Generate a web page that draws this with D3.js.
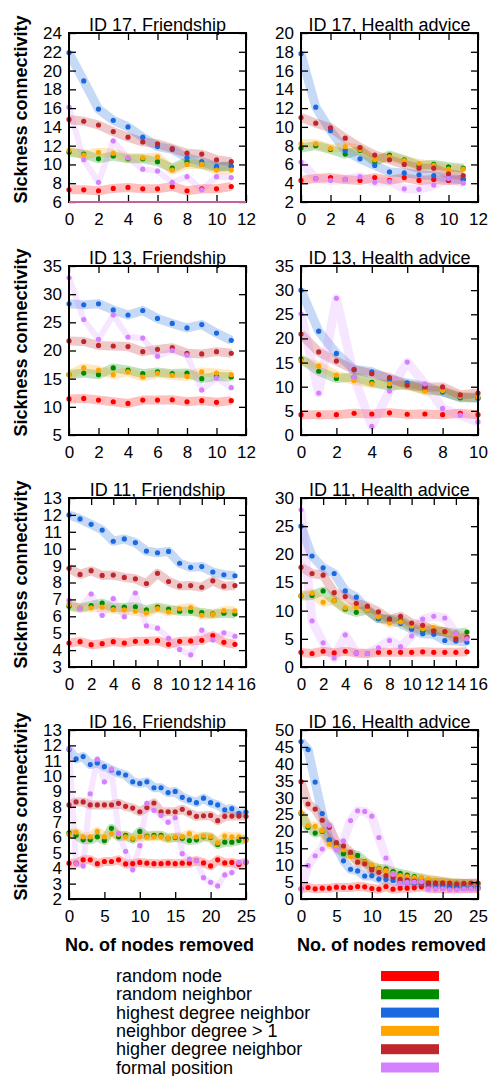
<!DOCTYPE html>
<html>
<head>
<meta charset="utf-8">
<script src="https://cdn.jsdelivr.net/npm/d3@7"></script>
<style>
  body { margin: 0; background: #fff; }
  svg { display: block; font-family: "Liberation Sans", Arial, Helvetica, sans-serif; }
</style>
</head>
<body>
<div id="chart"></div>
<script>
const width = 492;
const height = 1076;

// series, in legend order
const seriesNames = ["random node", "random neighbor", "highest degree neighbor",
  "neighbor degree > 1", "higher degree neighbor", "formal position"];
const seriesColors = ["#ff0000", "#008a00", "#1a69e0", "#ffa500", "#c0272d", "#d580ff"];

// rows follow seriesNames order; x = number of nodes removed (0, 1, 2, ...)
const id17Friendship = [
  [7.3, 7.3, 7.2, 7.45, 7.55, 7.4, 7.4, 7.65, 7.2, 7.4, 7.4, 7.65],
  [11.3, 11.1, 10.6, 10.9, 10.6, 10.6, 10.3, 9.6, 10.3, 10.0, 9.7, 9.8],
  [21.9, 18.9, 15.9, 14.7, 14.0, 12.9, 11.9, 11.6, 10.7, 10.3, 9.8, 9.8],
  [11.5, 11.0, 11.3, 11.2, 10.7, 10.7, 10.8, 9.4, 10.0, 10.0, 9.4, 9.4],
  [14.8, 14.6, 14.2, 13.5, 12.9, 12.4, 12.2, 11.7, 11.2, 11.1, 10.5, 10.3],
  [16.1, 10.5, 8.1, 12.5, 10.7, 9.5, 9.3, 8.1, 8.7, 7.3, 8.7, 8.6]
];
const id17Health = [
  [4.3, 4.5, 4.6, 4.4, 4.3, 4.6, 4.3, 4.6, 4.3, 4.4, 4.3, 4.4],
  [7.75, 8.0, 7.6, 7.1, 7.5, 6.3, 7.0, 6.5, 5.9, 6.0, 5.75, 5.6],
  [17.8, 12.1, 9.6, 7.5, 6.6, 5.9, 5.2, 5.1, 4.9, 4.8, 4.5, 4.4],
  [8.2, 8.2, 7.7, 7.9, 7.6, 6.5, 6.8, 6.4, 6.1, 5.9, 5.5, 5.5],
  [11.0, 10.4, 9.9, 8.8, 7.8, 7.0, 6.5, 6.0, 5.6, 5.6, 5.0, 4.8],
  [6.25, 4.5, 4.3, 4.4, 4.7, 4.1, 4.2, 3.4, 3.35, 3.8, 4.5, 4.0]
];
const id13Friendship = [
  [11.4, 11.5, 11.2, 10.9, 10.6, 11.2, 11.2, 11.25, 10.9, 11.1, 10.8, 11.1],
  [15.7, 16.0, 15.7, 16.9, 16.5, 15.9, 16.2, 15.9, 16.0, 15.0, 15.4, 15.3],
  [28.3, 28.1, 28.3, 27.2, 26.3, 27.1, 25.7, 24.8, 24.0, 24.6, 23.1, 21.8],
  [15.7, 16.9, 16.5, 15.7, 16.2, 15.3, 15.95, 15.6, 15.4, 16.2, 16.0, 15.7],
  [21.7, 21.6, 20.9, 20.8, 20.7, 19.8, 20.2, 20.5, 19.5, 19.4, 19.8, 19.5],
  [32.9, 25.5, 22.0, 26.3, 22.4, 22.2, 19.0, 20.0, 19.2, 13.0, 15.1, 13.4]
];
const id13Health = [
  [4.2, 4.2, 4.2, 4.5, 4.35, 4.6, 4.3, 4.35, 4.2, 4.5, 4.2],
  [15.75, 13.2, 11.7, 12.0, 10.9, 10.1, 10.4, 9.4, 9.0, 7.7, 7.7],
  [30.0, 21.5, 16.9, 13.6, 13.1, 11.5, 10.8, 10.1, 8.9, 7.85, 7.6],
  [15.4, 14.3, 12.4, 11.3, 10.6, 10.6, 10.3, 9.1, 9.2, 8.0, 7.85],
  [20.9, 17.2, 15.3, 13.5, 12.7, 11.9, 10.3, 9.95, 9.95, 8.3, 8.7],
  [25.1, 8.7, 28.3, 12.0, 1.8, 9.1, 15.1, 10.6, 5.5, 4.1, 2.7]
];
const id11Friendship = [
  [4.42, 4.5, 4.32, 4.38, 4.5, 4.42, 4.52, 4.52, 4.56, 4.34, 4.52, 4.54, 4.58, 4.86, 4.46, 4.34],
  [6.6, 6.48, 6.64, 6.78, 6.5, 6.54, 6.56, 6.38, 6.54, 6.42, 6.3, 6.3, 6.22, 6.14, 6.18, 6.14],
  [12.0, 11.76, 11.44, 11.1, 10.44, 10.58, 10.36, 9.86, 9.76, 9.84, 9.14, 8.9, 8.94, 8.62, 8.46, 8.4],
  [6.7, 6.5, 6.5, 6.54, 6.4, 6.38, 6.3, 6.2, 6.46, 6.26, 6.44, 6.52, 6.06, 6.12, 6.34, 6.32],
  [8.84, 8.48, 8.7, 8.42, 8.44, 8.3, 8.22, 7.94, 8.54, 8.06, 7.8, 7.82, 7.72, 8.1, 7.78, 7.82],
  [6.94, 6.46, 7.32, 6.06, 7.04, 5.98, 7.38, 5.44, 5.3, 4.7, 4.04, 3.72, 5.18, 4.6, 5.02, 4.82]
];
const id11Health = [
  [2.6, 2.4, 2.8, 2.5, 2.8, 2.5, 2.4, 2.6, 2.6, 2.6, 2.6, 2.7, 2.6, 2.6, 2.6, 2.7],
  [12.6, 12.7, 13.5, 11.8, 10.3, 9.7, 10.1, 8.6, 8.5, 8.3, 7.0, 6.4, 6.6, 6.2, 6.0, 6.2],
  [25.0, 19.7, 17.6, 16.6, 13.5, 12.4, 10.1, 8.6, 8.4, 7.7, 6.7, 5.9, 5.8, 4.7, 4.6, 4.4],
  [12.7, 13.1, 11.5, 11.8, 10.5, 10.6, 10.1, 8.9, 7.8, 8.0, 7.3, 6.8, 7.0, 6.2, 5.7, 5.3],
  [17.7, 16.6, 16.3, 13.2, 12.5, 11.3, 10.8, 9.8, 8.5, 9.0, 7.8, 7.4, 6.4, 6.3, 5.0, 5.3],
  [27.9, 8.2, 4.3, 1.6, 5.7, 2.5, 2.4, 3.4, 4.7, 3.6, 5.5, 8.5, 9.0, 8.7, 6.0, 5.0]
];
const id16Friendship = [
  [4.33, 4.33, 4.55, 4.55, 4.3, 4.44, 4.44, 4.55, 4.28, 4.3, 4.38, 4.33, 4.3, 4.3, 4.33, 4.3, 4.33, 4.33, 4.5, 4.35, 4.15, 4.55, 4.35, 4.38, 4.25, 4.4],
  [6.3, 6.15, 5.85, 5.85, 6.05, 5.8, 6.6, 6.05, 6.15, 5.9, 6.4, 6.1, 6.15, 6.15, 5.95, 6.0, 5.95, 5.8, 5.85, 6.05, 6.0, 5.55, 5.7, 5.7, 5.8, 5.9],
  [11.73, 11.12, 11.27, 10.75, 10.86, 10.61, 10.4, 10.2, 10.07, 9.63, 9.52, 9.63, 9.24, 9.24, 8.93, 9.0, 8.62, 8.45, 8.27, 8.56, 8.27, 8.12, 7.81, 7.88, 7.57, 7.66],
  [6.2, 6.35, 6.05, 6.05, 6.4, 6.05, 6.25, 6.2, 6.05, 5.95, 6.05, 6.05, 6.05, 6.05, 5.95, 6.05, 6.05, 6.25, 6.05, 6.1, 6.05, 5.65, 6.1, 6.05, 6.05, 5.8],
  [8.12, 8.32, 8.32, 8.12, 8.12, 8.12, 8.12, 8.23, 8.03, 7.92, 7.68, 7.95, 8.25, 7.68, 7.68, 7.68, 7.84, 7.6, 7.38, 7.42, 7.44, 7.1, 7.38, 7.4, 7.4, 7.38],
  [11.8, 4.3, 4.15, 8.85, 11.1, 9.63, 10.45, 6.25, 5.1, 3.9, 5.47, 8.23, 7.77, 7.44, 7.0, 7.29, 4.95, 4.6, 4.5, 3.39, 3.09, 2.85, 3.57, 3.72, 4.38, 4.44]
];
const id16Health = [
  [3.0, 3.4, 3.0, 3.2, 3.2, 3.5, 3.4, 3.4, 3.7, 3.6, 3.1, 2.9, 3.7, 2.9, 3.2, 3.2, 3.3, 3.6, 3.2, 3.1, 3.1, 3.1, 3.2, 3.1, 3.2, 3.1],
  [25.3, 21.2, 19.5, 20.0, 17.5, 15.7, 13.4, 13.4, 12.9, 11.1, 9.4, 9.1, 8.9, 8.1, 7.6, 7.1, 6.6, 6.1, 5.6, 5.4, 5.1, 4.8, 4.7, 4.6, 4.5, 4.5],
  [46.6, 44.2, 34.6, 25.3, 17.5, 15.5, 11.3, 8.8, 8.3, 6.8, 6.9, 5.9, 5.8, 5.5, 4.9, 4.8, 4.7, 4.5, 4.4, 4.3, 4.1, 4.0, 3.8, 3.7, 3.6, 3.5],
  [25.6, 21.7, 21.5, 20.2, 16.2, 15.3, 14.6, 12.6, 11.3, 10.9, 10.1, 8.9, 8.4, 7.6, 6.9, 6.6, 6.3, 6.3, 5.9, 5.6, 5.3, 4.9, 4.7, 4.7, 4.5, 4.5],
  [34.7, 28.1, 26.6, 23.3, 21.2, 16.7, 15.7, 13.8, 10.9, 10.4, 8.6, 7.9, 6.9, 6.4, 5.8, 5.6, 5.3, 4.9, 4.8, 4.8, 4.8, 4.7, 4.5, 4.6, 4.7, 4.7],
  [3.0, 9.9, 12.8, 14.8, 21.8, 14.6, 17.2, 23.2, 26.1, 25.9, 24.5, 18.2, 12.1, 7.3, 4.6, 4.9, 5.0, 5.1, 3.0, 2.9, 3.0, 2.7, 2.7, 3.0, 3.0, 3.0]
];

const panelTitles = ["ID 17, Friendship", "ID 17, Health advice", "ID 13, Friendship", "ID 13, Health advice",
  "ID 11, Friendship", "ID 11, Health advice", "ID 16, Friendship", "ID 16, Health advice"];
const panelData = [id17Friendship, id17Health, id13Friendship, id13Health,
  id11Friendship, id11Health, id16Friendship, id16Health];
const xDomains = [[0, 12], [0, 12], [0, 12], [0, 10], [0, 16], [0, 16], [0, 25], [0, 25]];
const xSteps = [2, 2, 2, 2, 2, 2, 5, 5];
const yDomains = [[6, 24], [2, 20], [5, 35], [0, 35], [3, 13], [0, 30], [2, 13], [0, 50]];
const ySteps = [2, 2, 5, 5, 1, 5, 1, 5];

// layout
const colX = [69, 301];
const rowY = [33, 266, 498, 730];
const pw = 177, ph = 169;
const tickLen = 7;

const svg = d3.select("#chart").append("svg")
  .attr("width", width)
  .attr("height", height);

svg.append("rect").attr("width", width).attr("height", height).attr("fill", "#fff");

panelData.forEach((rows, p) => {
  const col = p % 2, row = Math.floor(p / 2);
  const g = svg.append("g").attr("transform", `translate(${colX[col]},${rowY[row]})`);

  const x = d3.scaleLinear().domain(xDomains[p]).range([0, pw]);
  const y = d3.scaleLinear().domain(yDomains[p]).range([ph, 0]);
  const xt = d3.range(xDomains[p][0], xDomains[p][1] + 0.001, xSteps[p]);
  const yt = d3.range(yDomains[p][0], yDomains[p][1] + 0.001, ySteps[p]);

  g.append("clipPath").attr("id", "clip" + p)
    .append("rect").attr("width", pw).attr("height", ph);

  const line = d3.line().x((d, i) => x(i)).y(d => y(d));

  // light bands
  g.append("g").attr("clip-path", `url(#clip${p})`)
    .selectAll("path")
    .data(rows)
    .join("path")
    .attr("d", line)
    .attr("fill", "none")
    .attr("stroke", (d, i) => seriesColors[i])
    .attr("stroke-opacity", (d, i) => i === 5 ? 0.2 : 0.25)
    .attr("stroke-width", (d, i) => i === 5 && p % 2 === 0 ? 6 : 9)
    .attr("stroke-linejoin", "round");

  // mean points
  rows.forEach((vals, s) => {
    g.append("g").selectAll("circle")
      .data(vals)
      .join("circle")
      .attr("cx", (d, i) => x(i))
      .attr("cy", d => y(d))
      .attr("r", 2.6)
      .attr("fill", seriesColors[s]);
  });

  // axes with inward ticks on all sides
  const styleAxis = a => {
    a.select(".domain").remove();
    a.selectAll(".tick line").attr("stroke", "#000").attr("stroke-width", 1.3);
    a.selectAll(".tick text").attr("fill", "#000").style("font-size", "17px");
  };
  g.append("g")
    .call(d3.axisLeft(y).tickValues(yt).tickSize(-tickLen).tickPadding(7).tickFormat(d3.format("d")))
    .call(styleAxis);
  g.append("g").attr("transform", `translate(${pw},0)`)
    .call(d3.axisRight(y).tickValues(yt).tickSize(-tickLen).tickFormat(""))
    .call(styleAxis);
  g.append("g").attr("transform", `translate(0,${ph})`)
    .call(d3.axisBottom(x).tickValues(xt).tickSize(-tickLen).tickPadding(11).tickFormat(d3.format("d")))
    .call(styleAxis);
  g.append("g")
    .call(d3.axisTop(x).tickValues(xt).tickSize(-tickLen).tickFormat(""))
    .call(styleAxis);

  g.append("rect")
    .attr("width", pw).attr("height", ph)
    .attr("fill", "none").attr("stroke", "#000").attr("stroke-width", 2);

  if (p === 0) {
    g.append("line")
      .attr("x1", 0).attr("x2", pw).attr("y1", y(yDomains[p][0])).attr("y2", y(yDomains[p][0]))
      .attr("stroke", "#c462a0").attr("stroke-width", 2);
  }

  g.append("text")
    .attr("x", pw / 2).attr("y", -2)
    .attr("text-anchor", "middle")
    .style("font-size", "18px")
    .text(panelTitles[p]);

  if (col === 0) {
    g.append("text")
      .attr("transform", `translate(${27 - colX[0]},${ph / 2 - 8}) rotate(-90)`)
      .attr("text-anchor", "middle")
      .style("font-size", "18px").style("font-weight", "bold")
      .text("Sickness connectivity");
  }
  if (row === 3) {
    g.append("text")
      .attr("x", pw / 2 + 2).attr("y", ph + 52)
      .attr("text-anchor", "middle")
      .style("font-size", "18px").style("font-weight", "bold")
      .text("No. of nodes removed");
  }
});

// legend
const legend = svg.append("g")
  .selectAll("g")
  .data(seriesNames)
  .join("g")
  .attr("transform", (d, i) => `translate(0,${982 + i * 18.3})`);
legend.append("text")
  .attr("x", 116).attr("y", 0)
  .style("font-size", "18px")
  .text(d => d);
legend.append("rect")
  .attr("x", 381).attr("y", -11)
  .attr("width", 58).attr("height", 10)
  .attr("fill", (d, i) => seriesColors[i]);
</script>
</body>
</html>
